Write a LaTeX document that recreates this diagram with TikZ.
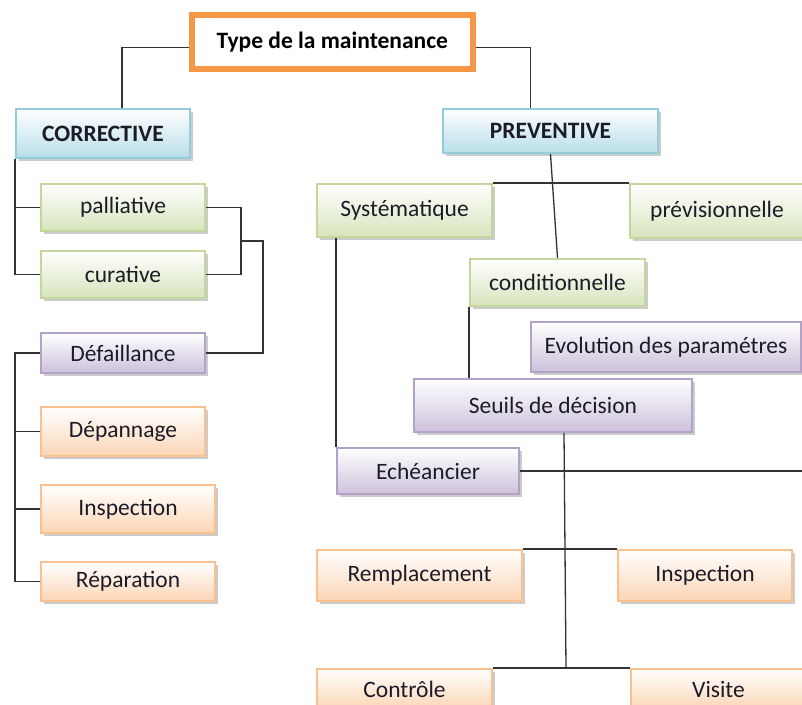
\documentclass[tikz,border=0pt]{standalone}
\usepackage{fontspec}
\setmainfont{Carlito}
\usepackage{tikz}
\usetikzlibrary{positioning,shadows,calc}

\definecolor{bluefill}{HTML}{B7DEE8}
\definecolor{blueline}{HTML}{93CDDD}
\definecolor{greenfill}{HTML}{D7E4BC}
\definecolor{greenline}{HTML}{C3D69B}
\definecolor{purplefill}{HTML}{CCC1DA}
\definecolor{purpleline}{HTML}{B3A2C7}
\definecolor{orangefill}{HTML}{FCD5B5}
\definecolor{orangeline}{HTML}{FAC090}
\definecolor{mainline}{HTML}{F79646}
\definecolor{textcol}{HTML}{1C1C28}

\tikzset{
  box/.style = {draw, line width=2pt, anchor=north west, inner sep=0pt,
    text=textcol, font=\fontsize{23.5}{28}\selectfont,
    drop shadow={shadow xshift=2.5pt, shadow yshift=-2.5pt, fill=black!40, opacity=0.5}},
  mainbox/.style = {draw=mainline, line width=5.5pt, fill=white, anchor=north west,
    inner sep=0pt, text=black, font=\fontsize{23.5}{28}\selectfont\bfseries},
  bluebox/.style = {box, draw=blueline, top color=white, bottom color=bluefill,
    font=\fontsize{23.5}{28}\selectfont\bfseries},
  greenbox/.style = {box, draw=greenline, top color=white, bottom color=greenfill},
  purplebox/.style = {box, draw=purpleline, top color=white, bottom color=purplefill},
  orangebox/.style = {box, draw=orangeline, top color=white, bottom color=orangefill},
  link/.style = {draw=black!80, line width=1.3pt},
}

\begin{document}
\begin{tikzpicture}[x=1pt, y=-1pt]

    \useasboundingbox (0,0) rectangle (802,704);
    \clip (0,0) rectangle (802,704);

      \node[mainbox, minimum width=281pt, minimum height=54pt] (m) at (189,12) {Type de la maintenance};

      \node[bluebox, minimum width=174pt, minimum height=49pt] (c) at (15,108) {CORRECTIVE};
      \node[bluebox, minimum width=215pt, minimum height=44pt] (p) at (442,108) {PREVENTIVE};

      \node[greenbox, minimum width=164pt, minimum height=47pt, below right=24pt and 25pt of c.south west] (c1) {palliative};
      \node[greenbox, minimum width=164pt, minimum height=47pt, below right=18pt and 0pt of c1.south west] (c2) {curative};

      \node[purplebox, minimum width=164pt, minimum height=40pt, below right=33pt and 0pt of c2.south west] (d) {Défaillance};
      \node[orangebox, minimum width=164pt, minimum height=49pt, below right=32pt and 0pt of d.south west] (d1) {Dépannage};
      \node[orangebox, minimum width=174pt, minimum height=48pt, below right=27pt and 0pt of d1.south west] (d2) {Inspection};
      \node[orangebox, minimum width=174pt, minimum height=39pt, below right=27pt and 0pt of d2.south west] (d3) {Réparation};

      \node[greenbox, minimum width=175pt, minimum height=53pt] (p1) at (316,183) {Systématique};
      \node[greenbox, minimum width=175pt, minimum height=47pt] (p2) at (469,258) {conditionnelle};
      \node[greenbox, minimum width=174pt, minimum height=54pt] (p3) at (629,183) {prévisionnelle};

      \node[purplebox, minimum width=270pt, minimum height=50pt] (e) at (530,321) {Evolution des paramétres};
      \node[purplebox, minimum width=278pt, minimum height=53pt] (s) at (413,378) {Seuils de décision};
      \node[purplebox, minimum width=182pt, minimum height=46pt] (h) at (336,447) {Echéancier};

      \node[orangebox, minimum width=205pt, minimum height=51pt] (s1) at (316,549) {Remplacement};
      \node[orangebox, minimum width=174pt, minimum height=51pt] (s2) at (617,549) {Inspection};
      \node[orangebox, minimum width=175pt, minimum height=40pt] (s3) at (316,668) {Contrôle};
      \node[orangebox, minimum width=175pt, minimum height=40pt] (s4) at (630,668) {Visite};

      \coordinate (j1) at ($(c1.east)!0.5!(c2.east) + (35,0)$);
      \coordinate (r) at (810,0);
      \coordinate (k) at (566,668);

      \draw[link] ([yshift=-6pt]m.west) -| ([xshift=19pt]c.north);
      \draw[link] ([yshift=-6pt]m.east) -| ([xshift=-20pt]p.north);

      \draw[link] (c.south west) |- (c1.west);
      \draw[link] (c.south west) |- (c2.west);
      \draw[link] (c1.east) -- ++(35,0) |- (c2.east);
      \draw[link] (j1) -- ++(22,0) |- (d.east);

      \draw[link] (d.west) -- (d.west -| c.south west) -- (c.south west |- d3.west) -- (d3.west);
      \draw[link] (c.south west |- d1.west) -- (d1.west);
      \draw[link] (c.south west |- d2.west) -- (d2.west);

      \draw[link] (p.south) -- (p2.north);
      \draw[link] (p1.north east) -- (p3.north west);
      \draw[link] (p2.south west) -- (p2.south west |- s.north);
      \draw[link] (h.north west |- p1.south) -- (h.north west);
      \draw[link] (h.east) -- (h.east -| r);

      \draw[link] ([xshift=11pt]s.south) -- (k);
      \draw[link] (s1.north east) -- (s2.north west);
      \draw[link] (s3.north east) -- (s4.north west);

\end{tikzpicture}
\end{document}
